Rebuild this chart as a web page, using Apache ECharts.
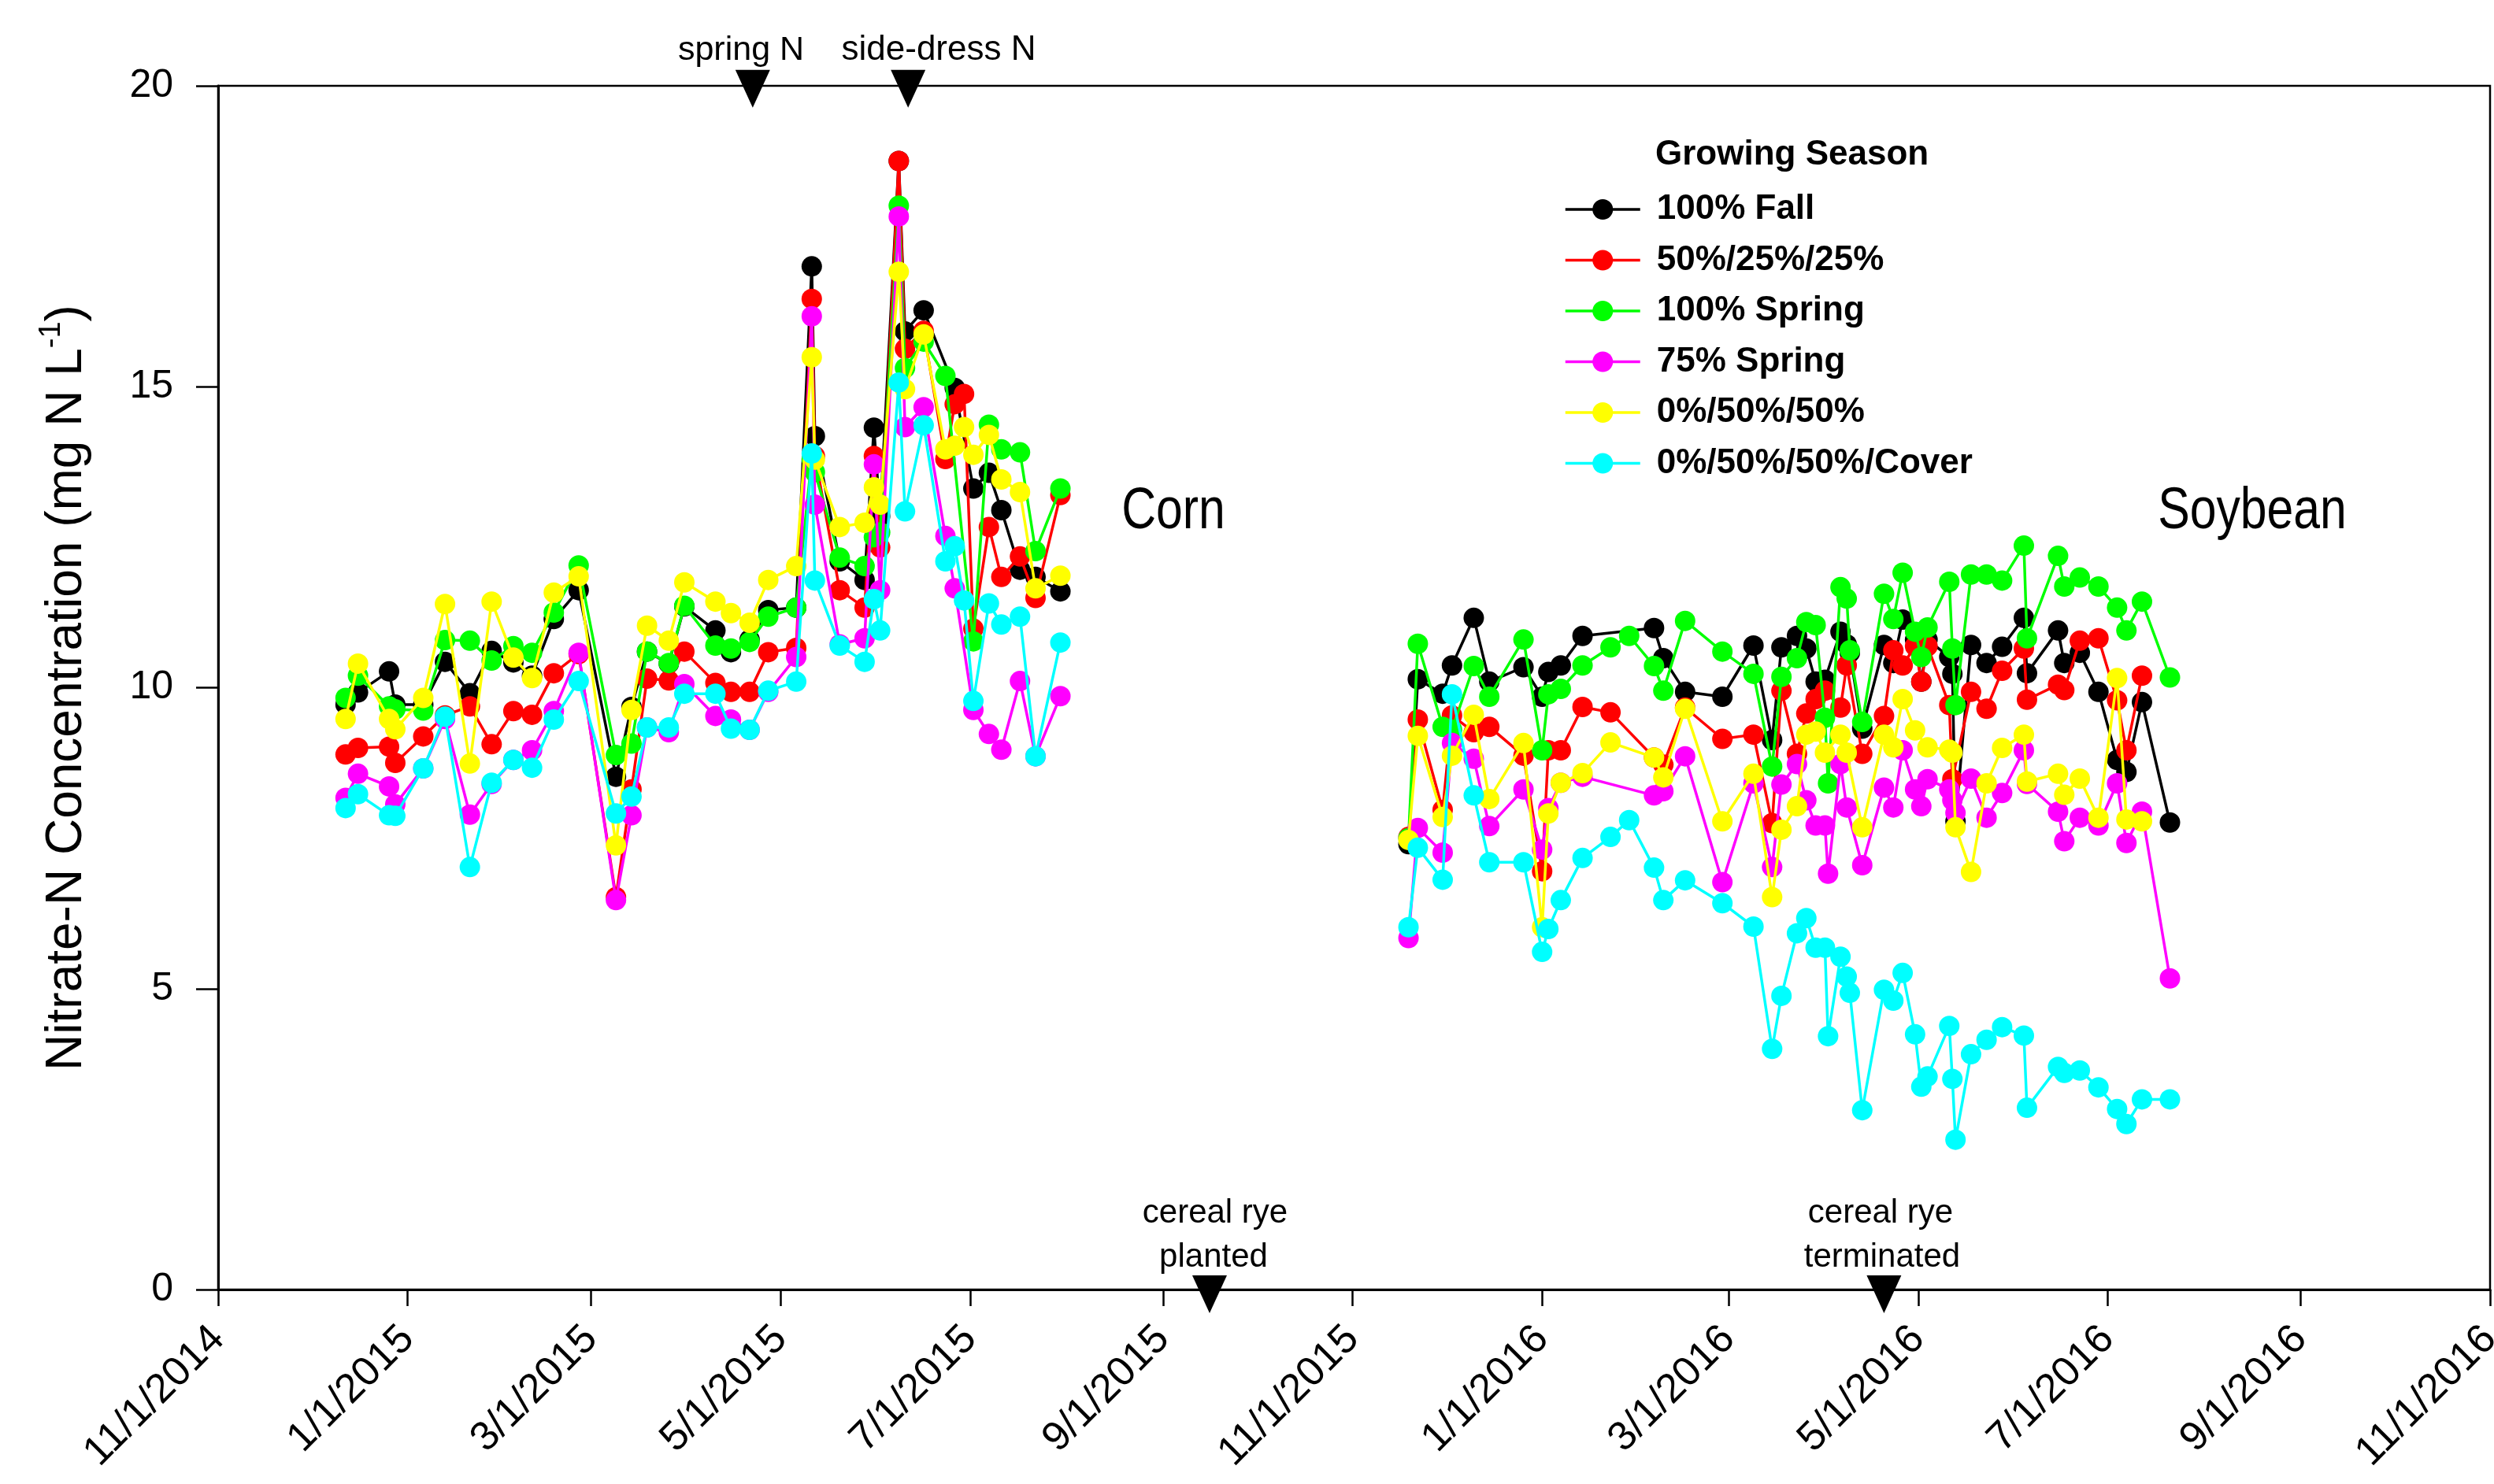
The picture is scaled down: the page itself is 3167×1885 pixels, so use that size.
<!DOCTYPE html>
<html><head><meta charset="utf-8">
<script src="https://cdn.jsdelivr.net/npm/echarts@6/dist/echarts.min.js"></script>
<style>html,body{margin:0;padding:0;background:#fff}#c{width:3167px;height:1885px}</style>
</head><body><div id="c"></div>
<script>
// ---------- data ----------
const seriesNames = ['100% Fall','50%/25%/25%','100% Spring','75% Spring','0%/50%/50%','0%/50%/50%/Cover'];
const seriesColors = ['#000000','#ff0000','#00ff00','#ff00ff','#ffff00','#00ffff'];

const cornDates = ['2014-12-12','2014-12-16','2014-12-26','2014-12-28','2015-01-06','2015-01-13','2015-01-21','2015-01-28',
 '2015-02-04','2015-02-10','2015-02-17','2015-02-25','2015-03-09','2015-03-14','2015-03-19','2015-03-26','2015-03-31',
 '2015-04-10','2015-04-15','2015-04-21','2015-04-27','2015-05-06','2015-05-11','2015-05-12','2015-05-20','2015-05-28',
 '2015-05-31','2015-06-02','2015-06-08','2015-06-10','2015-06-16','2015-06-23','2015-06-26','2015-06-29','2015-07-02',
 '2015-07-07','2015-07-11','2015-07-17','2015-07-22','2015-07-30'];

const fallCorn = [9.72,9.92,10.27,9.72,9.72,10.43,9.91,10.61,10.42,10.2,11.14,11.62,8.52,9.68,10.6,10.4,11.35,10.95,10.59,10.8,
 11.29,11.33,17.0,14.18,12.1,11.79,14.32,12.85,18.75,15.92,16.27,null,14.98,null,13.31,13.57,12.95,11.96,11.84,11.6];
const split25Corn = [8.89,9.0,9.02,8.75,9.19,9.54,9.69,9.06,9.61,9.55,10.24,10.56,6.52,8.31,10.15,10.12,10.6,10.08,9.93,9.93,
 10.59,10.66,16.46,13.85,11.62,11.33,13.85,12.33,18.75,15.63,15.93,13.8,14.71,14.88,10.98,12.67,11.84,12.18,11.49,13.2];
const spring100Corn = [9.83,10.2,9.69,9.64,9.62,10.79,10.78,10.45,10.69,10.58,11.25,12.03,8.88,9.07,10.6,10.41,11.36,10.7,10.65,10.76,
 11.18,11.33,13.8,13.58,12.16,12.02,12.5,12.58,18.01,15.31,15.75,15.18,null,null,10.77,14.37,13.96,13.91,12.27,13.31];
const spring75Corn = [8.17,8.57,8.36,8.06,8.66,9.48,7.89,8.4,8.8,8.96,9.61,10.58,6.47,7.88,9.34,9.26,10.06,9.53,9.47,9.3,
 9.93,10.51,16.17,13.04,10.72,10.82,13.71,11.62,17.83,14.33,14.66,12.52,11.65,null,9.63,9.23,8.97,10.11,8.86,9.86];
const split50Corn = [9.48,10.4,9.48,9.31,9.83,11.39,8.74,11.43,10.5,10.16,11.58,11.85,7.38,9.63,11.03,10.78,11.75,11.43,11.24,11.08,
 11.79,12.02,15.49,13.79,12.67,12.74,13.33,13.04,16.91,14.96,15.87,13.96,14.02,14.33,13.87,14.2,13.46,13.25,11.65,11.86];
const coverCorn = [8.0,8.23,7.88,7.87,8.66,9.52,7.02,8.42,8.8,8.67,9.47,10.11,7.91,8.19,9.34,9.34,9.9,9.9,9.32,9.3,
 9.95,10.1,13.89,11.78,10.7,10.43,11.47,10.95,15.07,12.93,14.36,12.1,12.35,11.45,9.78,11.4,11.05,11.18,8.86,10.75];

const soyDates = ['2015-11-19','2015-11-22','2015-11-30','2015-12-03','2015-12-10','2015-12-15','2015-12-26','2016-01-01',
 '2016-01-03','2016-01-07','2016-01-14','2016-01-23','2016-01-29','2016-02-06','2016-02-09','2016-02-16','2016-02-28',
 '2016-03-09','2016-03-15','2016-03-18','2016-03-23','2016-03-26','2016-03-29','2016-04-01','2016-04-02','2016-04-06',
 '2016-04-08','2016-04-09','2016-04-13','2016-04-20','2016-04-23','2016-04-26','2016-04-30','2016-05-02','2016-05-04',
 '2016-05-11','2016-05-12','2016-05-13','2016-05-18','2016-05-23','2016-05-28','2016-06-04','2016-06-05','2016-06-15',
 '2016-06-17','2016-06-22','2016-06-28','2016-07-04','2016-07-07','2016-07-12','2016-07-21'];

const fallSoy = [7.4,10.14,9.9,10.37,11.16,10.1,10.34,9.85,10.26,10.37,10.86,null,null,10.99,10.49,9.93,9.85,10.7,9.13,10.67,
 10.86,10.65,10.1,10.13,null,10.93,10.72,10.58,9.32,10.71,10.41,11.13,10.8,10.1,10.8,10.51,10.23,7.78,10.71,10.41,
 10.68,11.16,10.24,10.95,10.41,10.58,9.93,8.8,8.6,9.76,7.76];
const split25Soy = [7.52,9.47,7.97,9.54,9.26,9.35,8.87,6.95,8.96,8.96,9.68,9.59,null,8.84,8.72,9.67,9.15,9.22,7.75,9.95,
 8.9,9.57,9.81,9.95,null,9.67,10.37,null,8.9,9.53,10.62,10.37,10.69,10.1,10.69,9.71,8.48,null,9.93,9.65,
 10.28,10.65,9.8,10.05,9.96,10.78,10.82,9.79,8.96,10.2,null];
const spring100Soy = [7.5,10.73,9.35,9.3,10.36,9.85,10.8,8.96,9.89,9.98,10.37,10.67,10.86,10.36,9.95,11.11,10.6,10.23,8.69,10.18,
 10.49,11.09,11.04,9.5,8.41,11.67,11.48,10.62,9.43,11.56,11.14,11.91,10.93,10.51,11.0,11.76,10.65,9.71,11.88,11.88,
 11.78,12.36,10.82,12.19,11.68,11.83,11.68,11.33,10.95,11.43,10.17];
const spring75Soy = [5.84,7.67,7.26,9.08,8.82,7.7,8.31,7.31,8.0,8.42,8.52,null,null,8.21,8.28,8.86,6.77,8.41,7.02,8.39,
 8.73,8.13,7.71,7.71,6.91,8.73,8.01,null,7.05,8.34,8.01,8.96,8.31,8.03,8.48,8.31,8.13,7.92,8.49,7.84,
 8.25,8.96,8.4,7.94,7.45,7.84,7.71,8.41,7.42,7.94,5.17];
const split50Soy = [7.47,9.2,7.85,8.87,9.55,8.15,9.08,6.02,7.91,8.42,8.58,9.09,null,8.84,8.51,9.65,7.78,8.57,6.52,7.64,
 8.03,9.22,9.27,8.92,null,9.22,8.92,null,7.68,9.22,9.01,9.81,9.29,null,9.01,8.97,8.92,7.68,6.94,8.41,
 9.0,9.22,8.44,8.57,8.22,8.49,7.84,10.16,7.81,7.78,null];
const coverSoy = [6.02,7.34,6.81,9.89,8.21,7.1,7.1,5.61,5.99,6.47,7.17,7.52,7.8,7.01,6.47,6.8,6.42,6.03,4.0,4.88,
 5.92,6.17,5.68,5.68,4.21,5.53,5.2,4.93,2.98,4.98,4.8,5.26,4.24,3.37,3.54,4.38,3.5,2.49,3.91,4.15,
 4.36,4.22,3.02,3.7,3.6,3.64,3.36,3.0,2.75,3.16,3.16];

const tickLabels = ['11/1/2014','1/1/2015','3/1/2015','5/1/2015','7/1/2015','9/1/2015','11/1/2015',
 '1/1/2016','3/1/2016','5/1/2016','7/1/2016','9/1/2016','11/1/2016'];
const yTicks = [0, 5, 10, 15, 20];
const seasonBreak = '2015-09-15';
const topEvents = [{date:'2015-04-22', text:'spring N'}, {date:'2015-06-11', text:'side-dress N'}];
const bottomEvents = [{date:'2015-09-16', text:['cereal rye','planted']}, {date:'2016-04-20', text:['cereal rye','terminated']}];

// ---------- helpers ----------
function ts(s){ const p = s.split('-').map(Number); return Date.UTC(p[0], p[1]-1, p[2]); }
function tsMDY(s){ const p = s.split('/').map(Number); return Date.UTC(p[2], p[0]-1, p[1]); }
function fmt(v){ const d = new Date(v); return (d.getUTCMonth()+1)+'/'+d.getUTCDate()+'/'+d.getUTCFullYear(); }
function build(dates, vals){ const o=[]; dates.forEach((d,i)=>{ if(vals[i]!=null) o.push([ts(d), vals[i]]); }); return o; }

const cornSets = [fallCorn, split25Corn, spring100Corn, spring75Corn, split50Corn, coverCorn];
const soySets = [fallSoy, split25Soy, spring100Soy, spring75Soy, split50Soy, coverSoy];
const tickVals = tickLabels.map(tsMDY);
const FONT = "'Liberation Sans', Arial, Helvetica, sans-serif";

const series = seriesNames.map((name, k) => {
  const s = {
    name, type:'line', symbol:'circle', symbolSize:26, showSymbol:true, connectNulls:false,
    data: build(cornDates, cornSets[k]).concat([[ts(seasonBreak), '-']], build(soyDates, soySets[k])),
    lineStyle:{width:3.5, color:seriesColors[k]},
    itemStyle:{color:seriesColors[k], borderWidth:0},
    color: seriesColors[k],
    emphasis:{disabled:true}, z: 2 + k
  };
  if (k === 0) {
    s.markPoint = {
      symbol:'triangle', symbolRotate:180, symbolSize:[44,48], silent:true,
      label:{show:false}, itemStyle:{color:'#000'},
      data: topEvents.map(e => ({coord:[ts(e.date), 19.95]}))
        .concat(bottomEvents.map(e => ({coord:[ts(e.date), 0], symbolOffset:[0, 6]})))
    };
  }
  return s;
});

const chart = echarts.init(document.getElementById('c'), null, {renderer:'canvas'});
chart.setOption({
  animation:false,
  backgroundColor:'#ffffff',
  grid:{left:277, right:5, top:109, bottom:247, show:true, borderColor:'#000', borderWidth:2.5,
        backgroundColor:'transparent', containLabel:false, outerBoundsMode:'none'},
  xAxis:{
    type:'value', min:tickVals[0], max:tickVals[tickVals.length-1],
    axisLine:{show:true, onZero:false, lineStyle:{color:'#000', width:3}},
    axisTick:{show:true, customValues:tickVals, length:21, lineStyle:{color:'#000', width:2.5}},
    axisLabel:{show:true, customValues:tickVals, rotate:45, margin:55, formatter:fmt, fontSize:52, fontFamily:FONT, color:'#000'},
    splitLine:{show:false}
  },
  yAxis:{
    type:'value', min:0, max:20, interval:5,
    axisLine:{show:true, lineStyle:{color:'#000', width:3}},
    axisTick:{show:true, length:28, lineStyle:{color:'#000', width:2.5}},
    axisLabel:{margin:57, fontSize:50, fontFamily:FONT, color:'#000', customValues: yTicks},
    splitLine:{show:false},
    name:'{a|Nitrate-N Concentration (mg N L}{s|-1}{a|)}',
    nameLocation:'middle', nameRotate:90, nameGap:160,
    nameTextStyle:{fontFamily:FONT, color:'#000',
      rich:{a:{fontSize:64, fontFamily:FONT, color:'#000', lineHeight:70, verticalAlign:'bottom'},
            s:{fontSize:38, fontFamily:FONT, color:'#000', lineHeight:70, verticalAlign:'top'}}}
  },
  legend:{
    show:true, orient:'vertical', left:1981, top:239, itemWidth:95, itemHeight:32.5, itemGap:20.5,
    selectedMode:false, data:seriesNames,
    lineStyle:{width:3.5},
    textStyle:{fontSize:44, fontWeight:'bold', fontFamily:FONT, color:'#000', padding:[0,0,0,16], lineHeight:34}
  },
  graphic:[
    {type:'text', x:2102, y:197, silent:true, style:{text:'Growing Season', fill:'#000', font:"bold 44px "+FONT, textAlign:'left', textVerticalAlign:'middle'}},
    {type:'text', x:941, y:64, silent:true, style:{text:topEvents[0].text, fill:'#000', font:"43px "+FONT, textAlign:'center', textVerticalAlign:'middle'}},
    {type:'text', x:1192, y:64, silent:true, style:{text:topEvents[1].text, fill:'#000', font:"44px "+FONT, textAlign:'center', textVerticalAlign:'middle'}},
    {type:'text', x:1543, y:1541, silent:true, style:{text:bottomEvents[0].text[0], fill:'#000', font:"42px "+FONT, textAlign:'center', textVerticalAlign:'middle'}},
    {type:'text', x:1541, y:1597, silent:true, style:{text:bottomEvents[0].text[1], fill:'#000', font:"42px "+FONT, textAlign:'center', textVerticalAlign:'middle'}},
    {type:'text', x:2388, y:1541, silent:true, style:{text:bottomEvents[1].text[0], fill:'#000', font:"42px "+FONT, textAlign:'center', textVerticalAlign:'middle'}},
    {type:'text', x:2390, y:1597, silent:true, style:{text:bottomEvents[1].text[1], fill:'#000', font:"42px "+FONT, textAlign:'center', textVerticalAlign:'middle'}},
    {type:'text', x:1490, y:651, scaleX:0.82, silent:true, style:{text:'Corn', fill:'#000', font:"74px "+FONT, textAlign:'center', textVerticalAlign:'middle'}},
    {type:'text', x:2860, y:651, scaleX:0.82, silent:true, style:{text:'Soybean', fill:'#000', font:"74px "+FONT, textAlign:'center', textVerticalAlign:'middle'}}
  ],
  series
});
</script>
</body></html>
